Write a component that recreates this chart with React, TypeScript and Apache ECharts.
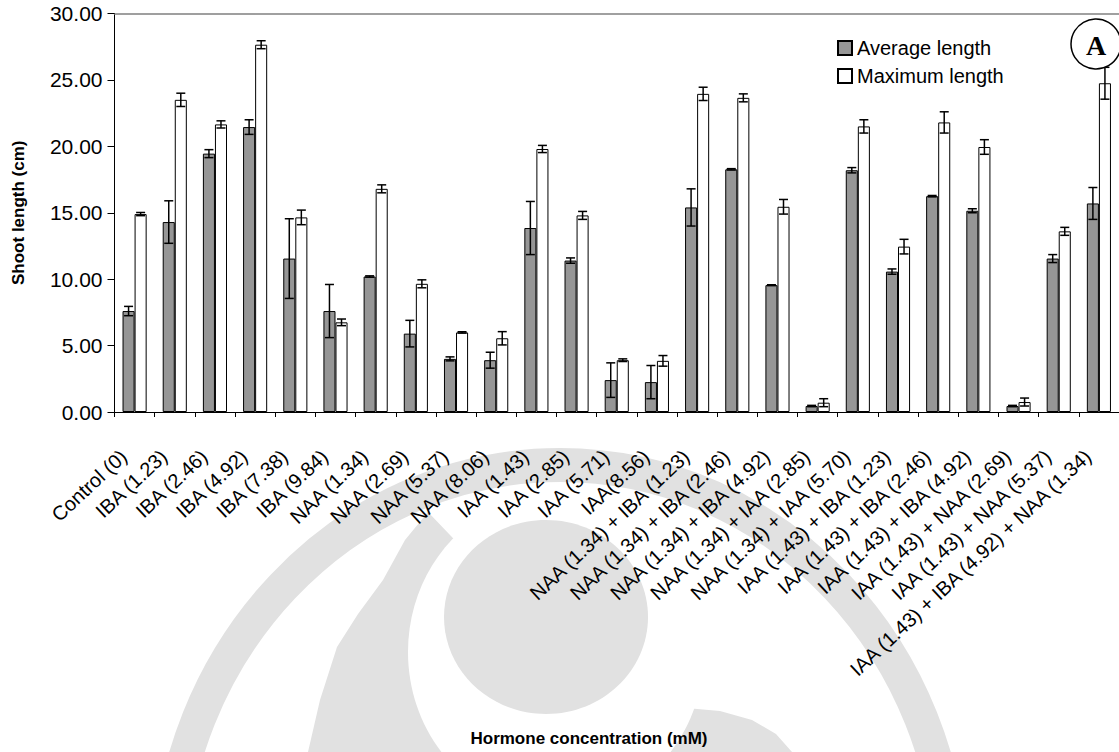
import React, { useEffect, useRef } from "react";
import * as echarts from "echarts";

const categories = [
  "Control (0)",
  "IBA (1.23)",
  "IBA (2.46)",
  "IBA (4.92)",
  "IBA (7.38)",
  "IBA (9.84)",
  "NAA (1.34)",
  "NAA (2.69)",
  "NAA (5.37)",
  "NAA (8.06)",
  "IAA (1.43)",
  "IAA (2.85)",
  "IAA (5.71)",
  "IAA(8.56)",
  "NAA (1.34) + IBA (1.23)",
  "NAA (1.34) + IBA (2.46)",
  "NAA (1.34) + IBA (4.92)",
  "NAA (1.34) + IAA (2.85)",
  "NAA (1.34) + IAA (5.70)",
  "IAA (1.43) + IBA (1.23)",
  "IAA (1.43) + IBA (2.46)",
  "IAA (1.43) + IBA (4.92)",
  "IAA (1.43) + NAA (2.69)",
  "IAA (1.43) + NAA (5.37)",
  "IAA (1.43) + IBA (4.92) + NAA (1.34)",
];

const averageLength = [
  7.6, 14.3, 19.45, 21.45, 11.55, 7.6, 10.2, 5.9, 4.0, 3.9, 13.85, 11.4, 2.4,
  2.25, 15.4, 18.27, 9.55, 0.45, 18.2, 10.57, 16.25, 15.15, 0.45, 11.55, 15.7,
];
const averageError = [
  0.35, 1.6, 0.3, 0.55, 3.0, 2.0, 0.05, 1.0, 0.15, 0.6, 2.0, 0.2, 1.3, 1.25,
  1.4, 0.05, 0.03, 0.05, 0.2, 0.2, 0.05, 0.15, 0.05, 0.3, 1.2,
];
const maximumLength = [
  14.9, 23.5, 21.65, 27.65, 14.65, 6.75, 16.8, 9.65, 5.99, 5.55, 19.8, 14.8,
  3.9, 3.85, 23.95, 23.65, 15.45, 0.7, 21.5, 12.45, 21.8, 19.95, 0.75, 13.6,
  24.75,
];
const maximumError = [
  0.12, 0.5, 0.27, 0.3, 0.55, 0.25, 0.3, 0.3, 0.05, 0.5, 0.27, 0.3, 0.1, 0.4,
  0.5, 0.3, 0.55, 0.3, 0.5, 0.55, 0.8, 0.55, 0.3, 0.3, 1.2,
];

const seriesNames = ["Average length", "Maximum length"];
const yTicks = { min: 0, max: 30, interval: 5 };

const FONT = "'Liberation Sans', Arial, Helvetica, sans-serif";
const BAR_SHARE = 0.3;
const WM = "#e1e1e1";

// error bar data: [categoryIndex, value, error, side(-1 left bar, +1 right bar)]
const errorData = [
  ...averageLength.map((v, i) => [i, v, averageError[i], -1]),
  ...maximumLength.map((v, i) => [i, v, maximumError[i], 1]),
];

function renderError(params: any, api: any) {
  const idx = api.value(0);
  const v = api.value(1);
  const e = api.value(2);
  const side = api.value(3);
  const hi = api.coord([idx, v + e]);
  const lo = api.coord([idx, Math.max(0, v - e)]);
  const band = api.size([1, 0])[0];
  const cx = hi[0] + (side * band * BAR_SHARE) / 2;
  const cap = 4.5;
  const style = { stroke: "#000", lineWidth: 1.5 };
  return {
    type: "group",
    children: [
      { type: "line", shape: { x1: cx, y1: hi[1], x2: cx, y2: lo[1] }, style },
      { type: "line", shape: { x1: cx - cap, y1: hi[1], x2: cx + cap, y2: hi[1] }, style },
      { type: "line", shape: { x1: cx - cap, y1: lo[1], x2: cx + cap, y2: lo[1] }, style },
    ],
  };
}

export default function App() {
  const ref = useRef<HTMLDivElement>(null);

  useEffect(() => {
    if (!ref.current) return;
    const chart = echarts.init(ref.current, null, { renderer: "svg" });

    // faint emblem behind the plot
    const emblem: any[] = [
      {
        type: "polygon",
        z: -20,
        silent: true,
        shape: {
          points: [
            [428, 512], [405, 540], [383, 580], [358, 614], [337, 647],
            [320, 700], [308, 752], [792, 752], [776, 734], [752, 720],
            [720, 711], [686, 708], [650, 709], [619, 713], [560, 650],
          ],
        },
        style: { fill: WM },
      },
      {
        type: "ellipse",
        z: -19,
        silent: true,
        shape: { cx: 556, cy: 652, rx: 148, ry: 158 },
        style: { fill: "#fff" },
      },
      {
        type: "ellipse",
        z: -18,
        silent: true,
        shape: { cx: 560, cy: 880, rx: 392, ry: 415 },
        style: { fill: "none", stroke: WM, lineWidth: 34 },
      },
      {
        type: "ellipse",
        z: -18,
        silent: true,
        shape: { cx: 546, cy: 617, rx: 102, ry: 97 },
        style: { fill: WM },
      },
    ];

    chart.setOption({
      animation: false,
      backgroundColor: "#fff",
      textStyle: { fontFamily: FONT },
      grid: { left: 114.5, top: 13.5, right: -4, bottom: 340 },
      legend: {
        data: seriesNames,
        orient: "vertical",
        left: 832,
        top: 33,
        itemWidth: 14,
        itemHeight: 14,
        itemGap: 8,
        icon: "rect",
        textStyle: { fontSize: 20, color: "#000", fontFamily: FONT },
      },
      xAxis: [
        {
          type: "category",
          data: categories,
          boundaryGap: true,
          axisLine: { lineStyle: { color: "#000", width: 1 } },
          axisTick: { show: true, length: 5, lineStyle: { color: "#000" } },
          axisLabel: {
            interval: 0,
            rotate: 43,
            margin: 31,
            padding: [0, 15, 0, 0],
            fontSize: 20,
            color: "#000",
            fontFamily: FONT,
          },
          splitLine: { show: false },
        },
        {
          type: "category",
          data: categories,
          position: "top",
          axisLine: { lineStyle: { color: "#808080", width: 1.5 } },
          axisTick: { show: false },
          axisLabel: { show: false },
          splitLine: { show: false },
        },
      ],
      yAxis: {
        type: "value",
        min: yTicks.min,
        max: yTicks.max,
        interval: yTicks.interval,
        name: "Shoot length (cm)",
        nameLocation: "middle",
        nameGap: 88,
        nameTextStyle: { fontSize: 17, fontWeight: "bold", color: "#000", fontFamily: FONT },
        axisLine: { show: true, lineStyle: { color: "#000", width: 1 } },
        axisTick: { show: true, length: 7, lineStyle: { color: "#000" } },
        axisLabel: {
          fontSize: 21,
          color: "#000",
          margin: 12,
          fontFamily: FONT,
          formatter: (v: number) => v.toFixed(2),
        },
        splitLine: { show: false },
      },
      series: [
        {
          name: seriesNames[0],
          type: "bar",
          data: averageLength,
          barWidth: `${BAR_SHARE * 100}%`,
          barGap: "0%",
          itemStyle: { color: "#969696", borderColor: "#000", borderWidth: 1 },
        },
        {
          name: seriesNames[1],
          type: "bar",
          data: maximumLength,
          barWidth: `${BAR_SHARE * 100}%`,
          barGap: "0%",
          itemStyle: { color: "#fff", borderColor: "#000", borderWidth: 1 },
        },
        {
          name: "error",
          type: "custom",
          data: errorData,
          encode: { x: 0, y: 1 },
          renderItem: renderError,
          z: 5,
          silent: true,
        },
      ],
      graphic: [
        ...emblem,
        {
          type: "circle",
          z: 100,
          shape: { cx: 1096, cy: 44, r: 25 },
          style: { fill: "#fff", stroke: "#000", lineWidth: 1.5 },
        },
        {
          type: "text",
          z: 101,
          x: 1096,
          y: 45,
          style: {
            text: "A",
            fontSize: 28,
            fontWeight: "bold",
            fontFamily: "'Liberation Serif', 'Times New Roman', serif",
            fill: "#000",
            align: "center",
            verticalAlign: "middle",
          },
        },
        {
          type: "text",
          z: 10,
          x: 589,
          y: 738,
          style: {
            text: "Hormone concentration (mM)",
            fontSize: 17,
            fontWeight: "bold",
            fontFamily: FONT,
            fill: "#000",
            align: "center",
            verticalAlign: "middle",
          },
        },
      ],
    });

    return () => chart.dispose();
  }, []);

  return (
    <div
      ref={ref}
      style={{ position: "fixed", left: 0, top: 0, width: 1119, height: 752, background: "#fff" }}
    />
  );
}
